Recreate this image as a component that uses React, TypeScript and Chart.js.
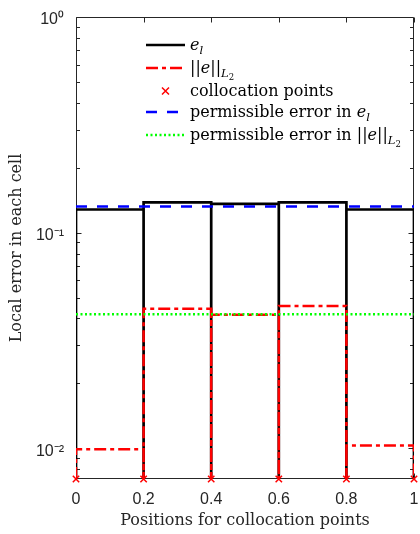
import React, { useEffect, useRef } from 'react';
import { Chart, registerables } from 'chart.js';

Chart.register(...registerables);

// ---- data ----
const cellEdges = [0, 0.2, 0.4, 0.6, 0.8, 1];
const localError = [0.128, 0.138, 0.136, 0.138, 0.128];
const l2Error = [0.0099, 0.0443, 0.0416, 0.0457, 0.0103];
const collocationPoints = [0, 0.2, 0.4, 0.6, 0.8, 1];
const permissibleLocal = 0.132;
const permissibleL2 = 0.0418;
const yAxisMin = 0.0072;
const yAxisMax = 1;
const yMajorTicks = [0.01, 0.1, 1];
const yTickLabels = ['10\u207B\u00B2', '10\u207B\u00B9', '10\u2070'];
const xTicks = [0, 0.2, 0.4, 0.6, 0.8, 1];
const xTickLabels = ['0', '0.2', '0.4', '0.6', '0.8', '1'];
const seriesLabels = [
  'e_l',
  '||e||_L2',
  'collocation points',
  'permissible error in e_l',
  'permissible error in ||e||_L2',
];

// rich legend text pieces (sub: subscript level, i: italic)
type Part = { t: string; i?: boolean; sub?: number };
const legendParts: Part[][] = [
  [{ t: 'e', i: true }, { t: 'l', i: true, sub: 1 }],
  [{ t: '||' }, { t: 'e', i: true }, { t: '||' }, { t: 'L', i: true, sub: 1 }, { t: '2', sub: 2 }],
  [{ t: 'collocation points' }],
  [{ t: 'permissible error in ' }, { t: 'e', i: true }, { t: 'l', i: true, sub: 1 }],
  [{ t: 'permissible error in ||' }, { t: 'e', i: true }, { t: '||' }, { t: 'L', i: true, sub: 1 }, { t: '2', sub: 2 }],
];

const BLACK = '#000000';
const RED = '#ff0000';
const BLUE = '#0000ff';
const GREEN = '#00ff00';
const AXIS = '#262626';
const SERIF = '"DejaVu Serif", serif';
const SANS = '"Liberation Sans", Arial, sans-serif';

const RED_DASH = [12, 4, 4, 4];
const BLUE_DASH = [11, 10];
const GREEN_DASH = [2, 2.5];

function cellStairs(values: number[]) {
  const pts: { x: number; y: number }[] = [];
  values.forEach((v, i) => {
    pts.push({ x: cellEdges[i], y: yAxisMin });
    pts.push({ x: cellEdges[i], y: v });
    pts.push({ x: cellEdges[i + 1], y: v });
    pts.push({ x: cellEdges[i + 1], y: yAxisMin });
  });
  return pts;
}

function drawRich(ctx: CanvasRenderingContext2D, parts: Part[], x: number, y: number) {
  for (const p of parts) {
    const lvl = p.sub || 0;
    const size = lvl === 0 ? 16 : lvl === 1 ? 11.5 : 8.5;
    const dy = lvl === 0 ? 0 : lvl === 1 ? 4 : 7;
    ctx.font = `${p.i ? 'italic ' : ''}${size}px ${SERIF}`;
    ctx.fillText(p.t, x, y + dy);
    x += ctx.measureText(p.t).width;
  }
}

const framePlugin = {
  id: 'frame',
  beforeDatasetsDraw(chart: any) {
    const { ctx, chartArea: a, scales } = chart;
    const x = scales.x;
    const y = scales.y;
    const L = Math.round(a.left) + 0.5;
    const R = Math.round(a.right) - 0.5;
    const T = Math.round(a.top) + 0.5;
    const B = Math.round(a.bottom) - 0.5;
    ctx.save();
    ctx.strokeStyle = AXIS;
    ctx.lineWidth = 1;
    ctx.beginPath();
    ctx.rect(L, T, R - L, B - T);
    ctx.stroke();
    // y ticks (inward, both sides)
    ctx.beginPath();
    for (let e = -3; e <= 0; e++) {
      for (let k = 1; k <= 9; k++) {
        const v = k * Math.pow(10, e);
        if (v < yAxisMin || v > yAxisMax) continue;
        const py = Math.round(y.getPixelForValue(v)) + 0.5;
        const len = k === 1 ? 5 : 3.5;
        ctx.moveTo(L, py);
        ctx.lineTo(L + len, py);
        ctx.moveTo(R, py);
        ctx.lineTo(R - len, py);
      }
    }
    for (const v of xTicks) {
      const px = Math.round(x.getPixelForValue(v)) + 0.5;
      ctx.moveTo(px, B);
      ctx.lineTo(px, B - 5);
      ctx.moveTo(px, T);
      ctx.lineTo(px, T + 5);
    }
    ctx.stroke();
    ctx.restore();
  },
  afterDraw(chart: any) {
    const { ctx } = chart;
    const rows = [45, 68, 91, 112, 135];
    const x0 = 146;
    const x1 = 185;
    const tx = 190;
    ctx.save();
    ctx.lineCap = 'butt';
    // row 1: solid black
    ctx.strokeStyle = BLACK;
    ctx.lineWidth = 2.7;
    ctx.setLineDash([]);
    ctx.beginPath(); ctx.moveTo(x0, rows[0]); ctx.lineTo(x1, rows[0]); ctx.stroke();
    // row 2: red dash-dot
    ctx.strokeStyle = RED;
    ctx.lineWidth = 2.5;
    ctx.setLineDash(RED_DASH);
    ctx.beginPath(); ctx.moveTo(x0, rows[1]); ctx.lineTo(x1, rows[1]); ctx.stroke();
    // row 3: red cross marker
    ctx.setLineDash([]);
    ctx.lineWidth = 1.5;
    const cx = (x0 + x1) / 2;
    const r = 3.5;
    ctx.beginPath();
    ctx.moveTo(cx - r, rows[2] - r); ctx.lineTo(cx + r, rows[2] + r);
    ctx.moveTo(cx - r, rows[2] + r); ctx.lineTo(cx + r, rows[2] - r);
    ctx.stroke();
    // row 4: blue dashed
    ctx.strokeStyle = BLUE;
    ctx.lineWidth = 2.5;
    ctx.setLineDash(BLUE_DASH);
    ctx.beginPath(); ctx.moveTo(x0, rows[3]); ctx.lineTo(x1, rows[3]); ctx.stroke();
    // row 5: green dotted
    ctx.strokeStyle = GREEN;
    ctx.setLineDash(GREEN_DASH);
    ctx.beginPath(); ctx.moveTo(x0, rows[4]); ctx.lineTo(x1, rows[4]); ctx.stroke();
    ctx.setLineDash([]);
    // texts
    ctx.fillStyle = '#000000';
    ctx.textBaseline = 'alphabetic';
    ctx.textAlign = 'left';
    legendParts.forEach((parts, i) => drawRich(ctx, parts, tx, rows[i] + 5));
    ctx.restore();
  },
};

export default function App() {
  const ref = useRef<HTMLCanvasElement | null>(null);

  useEffect(() => {
    if (!ref.current) return;
    const chart = new Chart(ref.current, {
      type: 'line',
      data: {
        datasets: [
          {
            label: seriesLabels[0],
            data: cellStairs(localError),
            borderColor: BLACK,
            borderWidth: 2.7,
            pointRadius: 0,
            fill: false,
            tension: 0,
            order: 5,
          },
          {
            label: seriesLabels[1],
            data: cellStairs(l2Error),
            borderColor: RED,
            borderWidth: 2.5,
            borderDash: RED_DASH,
            pointRadius: 0,
            fill: false,
            tension: 0,
            order: 4,
          },
          {
            label: seriesLabels[2],
            data: collocationPoints.map((x) => ({ x, y: yAxisMin })),
            showLine: false,
            pointStyle: 'crossRot',
            pointRadius: 4.5,
            pointBorderWidth: 1.5,
            pointBorderColor: RED,
            pointBackgroundColor: RED,
            borderColor: RED,
            clip: false,
            order: 3,
          },
          {
            label: seriesLabels[3],
            data: [
              { x: cellEdges[0], y: permissibleLocal },
              { x: cellEdges[cellEdges.length - 1], y: permissibleLocal },
            ],
            borderColor: BLUE,
            borderWidth: 2.5,
            borderDash: BLUE_DASH,
            pointRadius: 0,
            order: 2,
          },
          {
            label: seriesLabels[4],
            data: [
              { x: cellEdges[0], y: permissibleL2 },
              { x: cellEdges[cellEdges.length - 1], y: permissibleL2 },
            ],
            borderColor: GREEN,
            borderWidth: 2.5,
            borderDash: GREEN_DASH,
            pointRadius: 0,
            order: 1,
          },
        ] as any,
      },
      options: {
        animation: false,
        responsive: true,
        maintainAspectRatio: false,
        layout: { padding: { top: 17, right: 2, left: 0, bottom: 0 } },
        plugins: { legend: { display: false }, tooltip: { enabled: false } },
        scales: {
          x: {
            type: 'linear',
            position: 'bottom',
            min: 0,
            max: 1,
            afterBuildTicks: (axis: any) => {
              axis.ticks = xTicks.map((v) => ({ value: v }));
            },
            afterFit: (axis: any) => {
              axis.height = 55;
              axis.paddingLeft = 0;
              axis.paddingRight = 0;
            },
            grid: { display: false, drawTicks: false },
            border: { display: false },
            ticks: {
              autoSkip: false,
              maxRotation: 0,
              padding: 11,
              color: AXIS,
              font: { family: SANS, size: 16 },
              callback: (_v: any, i: number) => xTickLabels[i],
            },
            title: {
              display: true,
              text: 'Positions for collocation points',
              color: AXIS,
              font: { family: SERIF, size: 16 },
              padding: { top: 0, bottom: 4 },
            },
          },
          y: {
            type: 'logarithmic',
            position: 'left',
            min: yAxisMin,
            max: yAxisMax,
            afterBuildTicks: (axis: any) => {
              axis.ticks = yMajorTicks.map((v) => ({ value: v, major: true }));
            },
            afterFit: (axis: any) => {
              axis.width = 76;
              axis.paddingTop = 0;
              axis.paddingBottom = 0;
            },
            grid: { display: false, drawTicks: false },
            border: { display: false },
            ticks: {
              autoSkip: false,
              padding: 12,
              labelOffset: 3,
              color: AXIS,
              font: { family: SANS, size: 16 },
              callback: (_v: any, i: number) => yTickLabels[i],
            },
            title: {
              display: true,
              text: 'Local error in each cell',
              color: AXIS,
              font: { family: SERIF, size: 16 },
              padding: { top: 7, bottom: 0 },
            },
          },
        },
      } as any,
      plugins: [framePlugin],
    });
    return () => chart.destroy();
  }, []);

  return (
    <div style={{ position: 'fixed', left: 0, top: 0, width: 420, height: 534, background: '#ffffff' }}>
      <canvas ref={ref} />
    </div>
  );
}
